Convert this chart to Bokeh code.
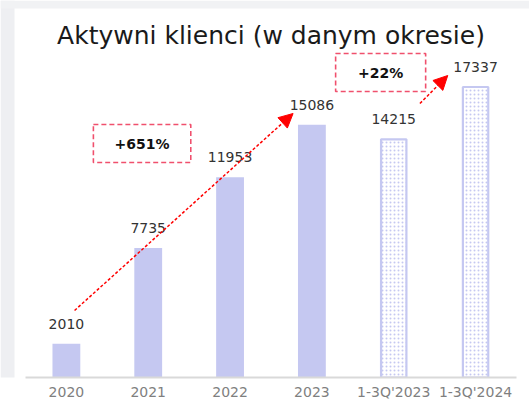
from bokeh.plotting import figure
from bokeh.models import Range1d, Label, Arrow, NormalHead, BoxAnnotation, ColumnDataSource, FixedTicker
from bokeh.embed import file_html
from bokeh.resources import INLINE
from bokeh.core.properties import value

categories = ["2020", "2021", "2022", "2023", "1-3Q'2023", "1-3Q'2024"]
clients = [2010, 7735, 11953, 15086, 14215, 17337]
full_year = [True, True, True, True, False, False]
value_labels = [str(v) for v in clients]
title_text = "Aktywni klienci (w danym okresie)"
growth_labels = ["+651%", "+22%"]

FONT = "DejaVu Sans"
BAR = "#c5c8f1"
positions = list(range(len(categories)))

p = figure(x_range=Range1d(-0.805, 5.659), y_range=Range1d(0, 22500),
           width=529, height=409, output_backend="svg", toolbar_location=None,
           min_border_left=0, min_border_right=0, min_border_top=0, min_border_bottom=32)
p.outline_line_color = None
p.xgrid.visible = False
p.ygrid.visible = False
p.yaxis.visible = False
p.background_fill_color = "white"
p.border_fill_color = "white"

# page shadow strips
p.add_layout(BoxAnnotation(left=0, right=14, top=0, bottom=409, left_units="canvas",
                           right_units="canvas", top_units="canvas", bottom_units="canvas",
                           fill_color="#eeeff2", fill_alpha=1, line_color=None, level="underlay"))
p.add_layout(BoxAnnotation(left=0, right=529, top=0, bottom=8, left_units="canvas",
                           right_units="canvas", top_units="canvas", bottom_units="canvas",
                           fill_color="#f1f2f4", fill_alpha=1, line_color=None, level="underlay"))

full_src = ColumnDataSource(dict(x=[i for i, f in zip(positions, full_year) if f],
                                 top=[v for v, f in zip(clients, full_year) if f]))
part_src = ColumnDataSource(dict(x=[i for i, f in zip(positions, full_year) if not f],
                                 top=[v for v, f in zip(clients, full_year) if not f]))

p.vbar(x="x", top="top", width=0.34, source=full_src, fill_color=BAR, line_color=None)
p.vbar(x="x", top="top", width=0.31, source=part_src, fill_color="white",
       line_color=BAR, line_width=2.2, hatch_pattern="dot", hatch_color=BAR,
       hatch_scale=4, hatch_weight=2.5)

lab_src = ColumnDataSource(dict(x=positions, y=clients, t=value_labels))
p.text(x="x", y="y", text="t", source=lab_src, y_offset=-20, text_align="center",
       text_baseline="middle", text_font=value(FONT), text_font_size="14px",
       text_color="#333333")

ax = p.xaxis[0]
ax.ticker = FixedTicker(ticks=positions)
ax.major_label_overrides = {i: c for i, c in zip(positions, categories)}
ax.bounds = (positions[0] - 0.5, positions[-1] + 0.5)
ax.axis_line_color = "#d9d9d9"
ax.axis_line_width = 2
ax.major_tick_line_color = None
ax.minor_tick_line_color = None
ax.major_label_text_font = FONT
ax.major_label_text_font_size = "14px"
ax.major_label_text_color = "#7f7f7f"
ax.major_label_standoff = 0

p.add_layout(Label(x=2.5, y=20410, text=title_text, text_align="center",
                   text_baseline="middle", text_font=FONT, text_font_size="25px",
                   text_color="#1a1a1a"))

BOX = "#f0506d"
p.add_layout(BoxAnnotation(left=0.33, right=1.52, bottom=12830, top=15100,
                           fill_color=None, fill_alpha=0, line_color=BOX, line_alpha=1,
                           line_dash="5 3", line_width=1.6))
p.add_layout(BoxAnnotation(left=3.29, right=4.39, bottom=17070, top=19340,
                           fill_color=None, fill_alpha=0, line_color=BOX, line_alpha=1,
                           line_dash="5 3", line_width=1.6))
p.add_layout(Label(x=0.925, y=13965, text=growth_labels[0], text_align="center",
                   text_baseline="middle", text_font=FONT, text_font_size="14px",
                   text_font_style="bold", text_color="#111111"))
p.add_layout(Label(x=3.84, y=18200, text=growth_labels[1], text_align="center",
                   text_baseline="middle", text_font=FONT, text_font_size="14px",
                   text_font_style="bold", text_color="#111111"))

p.add_layout(Arrow(end=NormalHead(size=14, fill_color="red", line_color="red"),
                   x_start=0.1, y_start=4000, x_end=2.77, y_end=15756,
                   line_color="red", line_dash="3 2", line_width=1.5))
p.add_layout(Arrow(end=NormalHead(size=14, fill_color="red", line_color="red"),
                   x_start=4.32, y_start=16352, x_end=4.66, y_end=18023,
                   line_color="red", line_dash="3 2", line_width=1.5))

open("out.html", "w").write(file_html(p, INLINE))
